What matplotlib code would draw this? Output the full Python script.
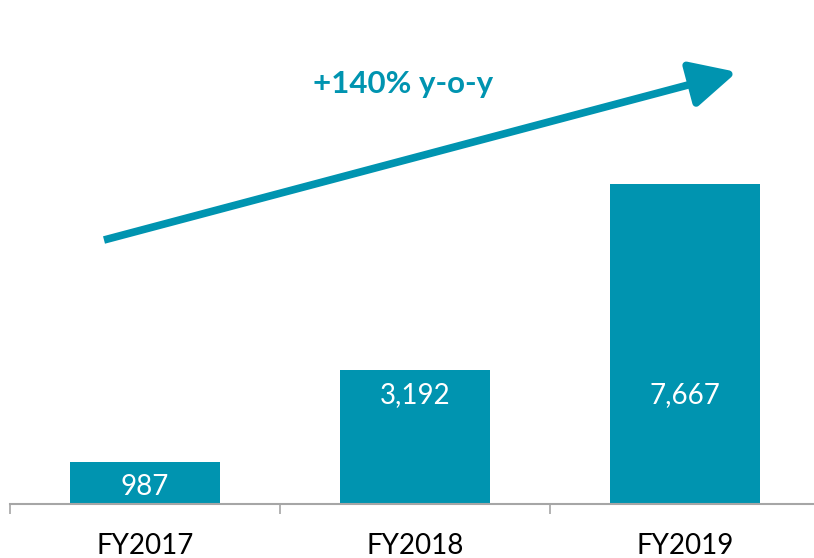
import matplotlib.pyplot as plt
import numpy as np

years = ["FY2017", "FY2018", "FY2019"]
values = [987, 3192, 7667]
labels = ["987", "3,192", "7,667"]
growth_text = "+140% y-o-y"

teal = "#0094B0"
grey = "#A6A6A6"
plt.rcParams['font.family'] = ['Lato', 'DejaVu Sans']

fig = plt.figure(figsize=(8.14, 5.58), dpi=100)
W, H = 814, 558
base_px = 503.5
ax = fig.add_axes([10 / W, (H - base_px) / H, 810 / W, base_px / H])

x = np.arange(len(years))
ymax = 7667 * base_px / 320
ax.bar(x, values, width=150 / 270, color=teal)
ax.set_xlim(-0.5, 2.5)
ax.set_ylim(0, ymax)


def px2data(px, py):
    return (px - 10) / 270 - 0.5, (base_px - py) / 320 * 7667


# value labels inside bars (baseline positions in pixels)
label_base = [495, 403, 403]
for xi, lab, by in zip(x, labels, label_base):
    ax.text(xi, px2data(0, by)[1], lab, ha='center', va='baseline',
            color='white', fontsize=20)

# category labels & boundary ticks
for xi, yr in zip(x, years):
    ax.text(xi, px2data(0, 554)[1], yr, ha='center', va='baseline',
            fontsize=20, color='black', clip_on=False)
ax.set_xticks([-0.5, 0.5, 1.5, 2.5])
ax.set_xticklabels([])
ax.tick_params(axis='x', length=7, width=1.2, color=grey, direction='out')
ax.set_yticks([])
for s in ['left', 'right', 'top']:
    ax.spines[s].set_visible(False)
ax.spines['bottom'].set_color(grey)
ax.spines['bottom'].set_linewidth(1.5)

start = px2data(104, 240)
tip = px2data(737, 72)
ax.annotate('', xy=tip, xytext=start,
            arrowprops=dict(arrowstyle='-|>,head_length=2.8,head_width=1.4',
                            lw=5.5, color=teal, shrinkA=0, shrinkB=0,
                            mutation_scale=10, capstyle='butt'))
tx, ty = px2data(403, 93)
ax.text(tx, ty, growth_text, ha='center', va='baseline', color=teal,
        fontsize=22.5, fontweight='bold')

fig.savefig('out.png', dpi=100)
